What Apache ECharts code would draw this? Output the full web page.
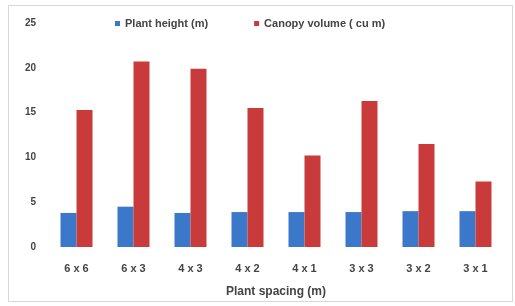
<!DOCTYPE html>
<html>
<head>
<meta charset="utf-8">
<script src="https://cdn.jsdelivr.net/npm/echarts@6/dist/echarts.min.js"></script>
<style>
  html, body { margin: 0; padding: 0; background: #fff; }
  #frame { position: absolute; left: 8px; top: 5px; width: 505px; height: 297px; border: 1px solid #d8d8d8; box-sizing: border-box; }
  #chart { width: 515px; height: 306px; }
</style>
</head>
<body>
<div id="frame"></div>
<div id="chart"></div>
<script>
  // categories and values
  var spacings = ['6 x 6', '6 x 3', '4 x 3', '4 x 2', '4 x 1', '3 x 3', '3 x 2', '3 x 1']
  var plantHeight = [3.8, 4.5, 3.8, 3.9, 3.9, 3.9, 4.0, 4.0]
  var canopyVolume = [15.3, 20.7, 19.9, 15.5, 10.2, 16.3, 11.5, 7.3]
  var yTicks = [0, 5, 10, 15, 20, 25]

  var chart = echarts.init(document.getElementById('chart'))
  var font = function (size) {
    return { color: '#444', fontSize: size, fontWeight: 'bold', fontFamily: 'Liberation Sans' }
  }

  chart.setOption({
    animation: false,
    legend: {
      top: 13,
      left: 110,
      itemWidth: 5,
      itemHeight: 5,
      itemGap: 46,
      icon: 'rect',
      textStyle: font(11),
      data: ['Plant height (m)', 'Canopy volume ( cu m)']
    },
    grid: { left: 48, right: 11, top: 23, bottom: 59 },
    xAxis: {
      type: 'category',
      data: spacings,
      name: 'Plant spacing (m)',
      nameLocation: 'middle',
      nameGap: 39,
      nameTextStyle: font(12),
      axisLine: { show: false },
      axisTick: { show: false },
      axisLabel: Object.assign({ margin: 16 }, font(11))
    },
    yAxis: {
      type: 'value',
      min: yTicks[0],
      max: yTicks[yTicks.length - 1],
      interval: 5,
      splitLine: { show: false },
      axisLine: { show: false },
      axisLabel: Object.assign({ margin: 12 }, font(10))
    },
    series: [
      {
        name: 'Plant height (m)',
        type: 'bar',
        data: plantHeight,
        barWidth: 16,
        barGap: '0%',
        itemStyle: { color: '#3b78c9' }
      },
      {
        name: 'Canopy volume ( cu m)',
        type: 'bar',
        data: canopyVolume,
        barWidth: 16,
        itemStyle: { color: '#c93a3a' }
      }
    ]
  })
</script>
</body>
</html>
